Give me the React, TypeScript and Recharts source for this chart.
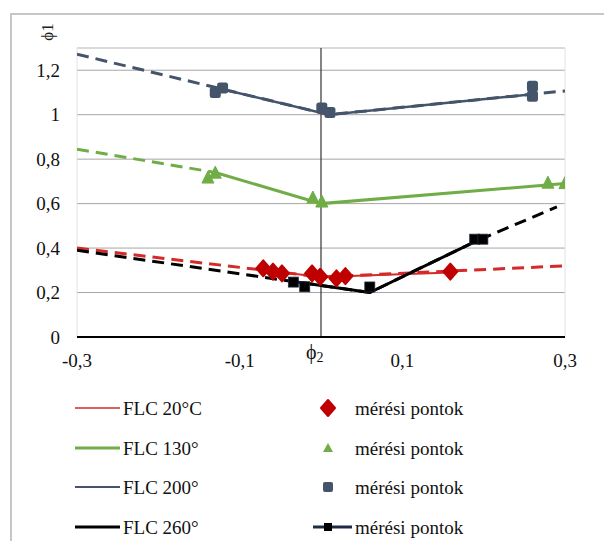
import React from "react";
import {
  ComposedChart,
  Line,
  Scatter,
  XAxis,
  YAxis,
  CartesianGrid,
  ReferenceLine,
} from "recharts";

// FLC curves: dashed extrapolation over full range, solid over the measured range
const flc20DashX = [-0.3, 0, 0.3];
const flc20DashY = [0.4, 0.27, 0.32];
const flc20SolidX = [-0.07, 0, 0.16];
const flc20SolidY = [0.3, 0.27, 0.29];

const flc130DashX = [-0.3, -0.13];
const flc130DashY = [0.845, 0.74];
const flc130SolidX = [-0.13, 0, 0.3];
const flc130SolidY = [0.74, 0.6, 0.69];

const flc200DashX = [-0.3, 0.01, 0.3];
const flc200DashY = [1.272, 1.0, 1.107];
const flc200SolidX = [-0.125, 0.01, 0.26];
const flc200SolidY = [1.118, 1.0, 1.092];

const flc260DashX = [-0.3, 0.06, 0.19, 0.29];
const flc260DashY = [0.39, 0.2, 0.43, 0.585];
const flc260SolidX = [-0.03, 0.06, 0.19];
const flc260SolidY = [0.247, 0.2, 0.43];

// Measured points (mérési pontok)
const m20X = [-0.071, -0.059, -0.048, -0.011, -0.001, 0.019, 0.03, 0.159];
const m20Y = [0.309, 0.294, 0.286, 0.286, 0.271, 0.264, 0.274, 0.294];
const m130X = [-0.139, -0.13, -0.01, 0.001, 0.279, 0.3];
const m130Y = [0.715, 0.737, 0.625, 0.607, 0.692, 0.69];
const m200X = [-0.13, -0.121, 0.001, 0.011, 0.26, 0.26];
const m200Y = [1.1, 1.12, 1.03, 1.01, 1.128, 1.083];
const m260X = [-0.034, -0.02, 0.06, 0.189, 0.199];
const m260Y = [0.247, 0.226, 0.225, 0.44, 0.44];

const xTicks = [-0.3, -0.1, 0.1, 0.3];
const yTicks = [0, 0.2, 0.4, 0.6, 0.8, 1, 1.2];

const legendLeft = ["FLC 20°C", "FLC 130°", "FLC 200°", "FLC 260°"];
const legendRight = "mérési pontok";

const RED = "#c00000";
const RED_LINE = "#d42a2a";
const GREEN = "#70ad47";
const NAVY = "#44546a";
const BLACK = "#000000";
const FONT = "Liberation Serif, DejaVu Serif, serif";

const zip = (xs: number[], ys: number[]) => xs.map((x, i) => ({ x, y: ys[i] }));
const fmt = (v: number) => String(v).replace(".", ",");

const Diamond = (p: any) => (
  <polygon
    points={`${p.cx},${p.cy - 8} ${p.cx + 7},${p.cy} ${p.cx},${p.cy + 8} ${p.cx - 7},${p.cy}`}
    fill={RED}
    stroke={RED}
    strokeWidth={2}
    strokeLinejoin="round"
  />
);
const Triangle = (p: any) => (
  <polygon
    points={`${p.cx},${p.cy - 7} ${p.cx + 6},${p.cy + 5} ${p.cx - 6},${p.cy + 5}`}
    fill={GREEN}
    stroke={GREEN}
    strokeWidth={1}
  />
);
const NavySquare = (p: any) => (
  <rect x={p.cx - 5.5} y={p.cy - 5.5} width={11} height={11} rx={2.5} fill={NAVY} />
);
const BlackSquare = (p: any) => (
  <rect x={p.cx - 5} y={p.cy - 5} width={10} height={10} fill={BLACK} stroke="#1f2a44" strokeWidth={0.8} />
);

const dash = "12 7";
const tickStyle = { fill: "#111", fontSize: 19, fontFamily: FONT };

export default function App() {
  const rows = [408, 448, 487, 527];
  return (
    <div style={{ position: "absolute", left: 0, top: 0, width: 604, height: 541, background: "#fff", overflow: "hidden", fontFamily: FONT }}>
      <div style={{ position: "absolute", left: 10, top: 13, width: 620, height: 560, border: "2px solid #c6c6c6", boxSizing: "border-box" }} />
      <div style={{ position: "absolute", left: 0, top: 0 }}>
        <ComposedChart width={604} height={541} margin={{ top: 48, right: 39, left: 37, bottom: 174 }} style={{ fontFamily: FONT }}>
          <CartesianGrid horizontal vertical={false} stroke="#a6a6a6" strokeWidth={1} />
          <XAxis
            type="number"
            dataKey="x"
            domain={[-0.3, 0.3]}
            ticks={xTicks}
            tickFormatter={fmt}
            tickLine={false}
            axisLine={{ stroke: "#000", strokeWidth: 2 }}
            tickMargin={11}
            height={30}
            tick={tickStyle}
            allowDataOverflow
          />
          <YAxis
            type="number"
            dataKey="y"
            domain={[0, 1.3]}
            ticks={yTicks}
            tickFormatter={fmt}
            tickLine={false}
            axisLine={false}
            tickMargin={11}
            width={40}
            tick={tickStyle}
            allowDataOverflow
          />
          <ReferenceLine y={1.3} stroke="#e2e2e2" strokeWidth={1} />
          <ReferenceLine x={-0.3} stroke="#e2e2e2" strokeWidth={1} />
          <ReferenceLine x={0.3} stroke="#e2e2e2" strokeWidth={1} />
          <ReferenceLine x={0} stroke="#333" strokeWidth={1.2} />

          <Line data={zip(flc200DashX, flc200DashY)} dataKey="y" stroke={NAVY} strokeWidth={3} strokeDasharray={dash} dot={false} isAnimationActive={false} />
          <Line data={zip(flc200SolidX, flc200SolidY)} dataKey="y" stroke={NAVY} strokeWidth={2.5} dot={false} isAnimationActive={false} />
          <Line data={zip(flc130DashX, flc130DashY)} dataKey="y" stroke={GREEN} strokeWidth={3} strokeDasharray={dash} dot={false} isAnimationActive={false} />
          <Line data={zip(flc130SolidX, flc130SolidY)} dataKey="y" stroke={GREEN} strokeWidth={3} dot={false} isAnimationActive={false} />
          <Line data={zip(flc20DashX, flc20DashY)} dataKey="y" stroke={RED_LINE} strokeWidth={3} strokeDasharray={dash} dot={false} isAnimationActive={false} />
          <Line data={zip(flc20SolidX, flc20SolidY)} dataKey="y" stroke={RED_LINE} strokeWidth={2} dot={false} isAnimationActive={false} />
          <Line data={zip(flc260DashX, flc260DashY)} dataKey="y" stroke={BLACK} strokeWidth={3} strokeDasharray={dash} dot={false} isAnimationActive={false} />
          <Line data={zip(flc260SolidX, flc260SolidY)} dataKey="y" stroke={BLACK} strokeWidth={3} dot={false} isAnimationActive={false} />

          <Scatter data={zip(m200X, m200Y)} dataKey="y" shape={NavySquare} isAnimationActive={false} />
          <Scatter data={zip(m130X, m130Y)} dataKey="y" shape={Triangle} isAnimationActive={false} />
          <Scatter data={zip(m20X, m20Y)} dataKey="y" shape={Diamond} isAnimationActive={false} />
          <Scatter data={zip(m260X, m260Y)} dataKey="y" shape={BlackSquare} isAnimationActive={false} />
        </ComposedChart>
      </div>

      {/* axis titles and legend */}
      <svg style={{ position: "absolute", left: 0, top: 0, fontFamily: FONT }} width={604} height={541} pointerEvents="none">
        <text x={47} y={32} transform="rotate(-90 47 32)" textAnchor="middle" dominantBaseline="central" fontSize={17} fill="#222" style={{ fontFamily: FONT }}>
          ϕ1
        </text>
        <text x={306} y={359} fontSize={20} fill="#111" style={{ fontFamily: FONT }}>
          ϕ<tspan fontSize={14} dy={3}>2</tspan>
        </text>

        {rows.map((cy, i) => (
          <g key={i}>
            <line
              x1={75}
              x2={120}
              y1={cy}
              y2={cy}
              stroke={[RED_LINE, GREEN, NAVY, BLACK][i]}
              strokeWidth={[1.5, 3, 2, 3][i]}
            />
            <text x={123} y={cy} dominantBaseline="central" fontSize={19} fill="#111" style={{ fontFamily: FONT }}>
              {legendLeft[i]}
            </text>
            <text x={355} y={cy} dominantBaseline="central" fontSize={19} fill="#111" style={{ fontFamily: FONT }}>
              {legendRight}
            </text>
          </g>
        ))}
        <Diamond cx={328} cy={rows[0]} />
        <polygon points={`328,${rows[1] - 5} 333,${rows[1] + 4} 323,${rows[1] + 4}`} fill={GREEN} />
        <rect x={323} y={rows[2] - 5} width={10} height={10} rx={2} fill={NAVY} />
        <line x1={313} x2={352} y1={rows[3]} y2={rows[3]} stroke="#1f2a44" strokeWidth={3} />
        <rect x={324} y={rows[3] - 4} width={8} height={8} fill={BLACK} />
      </svg>
    </div>
  );
}
